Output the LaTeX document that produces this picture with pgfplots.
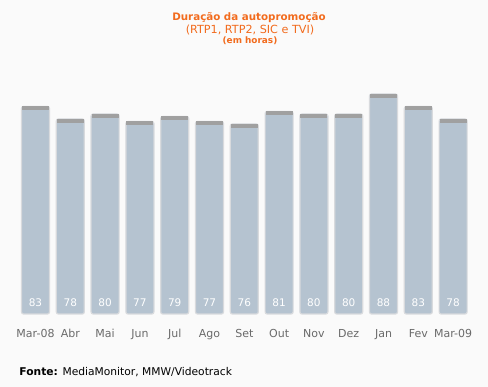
\documentclass[border=0pt]{standalone}
\usepackage{fontspec}
\setmainfont{DejaVu Sans}
\usepackage{pgfplots}
\pgfplotsset{compat=1.18}
\definecolor{bg}{HTML}{FAFAFA}
\definecolor{barc}{HTML}{B5C3D0}
\definecolor{capc}{HTML}{A0A0A0}
\definecolor{shad}{HTML}{D8DADD}
\definecolor{org}{HTML}{F26B1D}
\definecolor{tickc}{HTML}{6A6A6A}
\begin{document}
\begin{tikzpicture}[x=1pt,y=1pt]
\fill[bg] (0,0) rectangle (488,387);
\useasboundingbox (0,0) rectangle (488,387);
\node[anchor=base, text=org, inner sep=0pt, font=\fontsize{10.3}{12}\selectfont\bfseries] at (249,366) {Duração da autopromoção};
\node[anchor=base, text=org, inner sep=0pt, font=\fontsize{11.2}{13}\selectfont] at (250,353) {(RTP1, RTP2, SIC e TVI)};
\node[anchor=base, text=org, inner sep=0pt, font=\fontsize{8.9}{11}\selectfont\bfseries] at (250,343) {(em horas)};
\node[anchor=base west, inner sep=0pt, font=\fontsize{10.7}{13}\selectfont] at (19.3,11.3) {\textbf{Fonte:} MediaMonitor, MMW/Videotrack};
\begin{axis}[
  at={(18.1pt,73pt)}, anchor=south west,
  scale only axis, width=452.4pt, height=250pt,
  xmin=-0.5, xmax=12.5, ymin=0, ymax=100,
  axis line style={draw=none},
  ytick=\empty,
  xtick={0,...,12},
  xticklabels={Mar-08,Abr,Mai,Jun,Jul,Ago,Set,Out,Nov,Dez,Jan,Fev,Mar-09},
  major tick length=0pt,
  xticklabel style={anchor=base, yshift=-24pt, inner sep=0pt, text=tickc, font=\fontsize{11}{13}\selectfont},
  clip=false,
]
\addplot[ybar, bar width=28pt, bar shift=0pt, fill=barc, draw=shad, line width=1.2pt, rounded corners=2pt,
  mark=-, mark size=13.5pt, mark options={draw=capc, line width=4pt, yshift=-2pt, solid, rounded corners=0pt}]
  coordinates {(0,83) (1,78) (2,80) (3,77) (4,79) (5,77) (6,76) (7,81) (8,80) (9,80) (10,88) (11,83) (12,78)};
\addplot[draw=none, mark=none, nodes near coords, point meta=explicit symbolic,
  every node near coord/.append style={anchor=base, inner sep=0pt, text=white, font=\fontsize{10.5}{12}\selectfont}]
  coordinates {(0,2.8)[83] (1,2.8)[78] (2,2.8)[80] (3,2.8)[77] (4,2.8)[79] (5,2.8)[77] (6,2.8)[76] (7,2.8)[81] (8,2.8)[80] (9,2.8)[80] (10,2.8)[88] (11,2.8)[83] (12,2.8)[78]};
\end{axis}
\end{tikzpicture}
\end{document}
